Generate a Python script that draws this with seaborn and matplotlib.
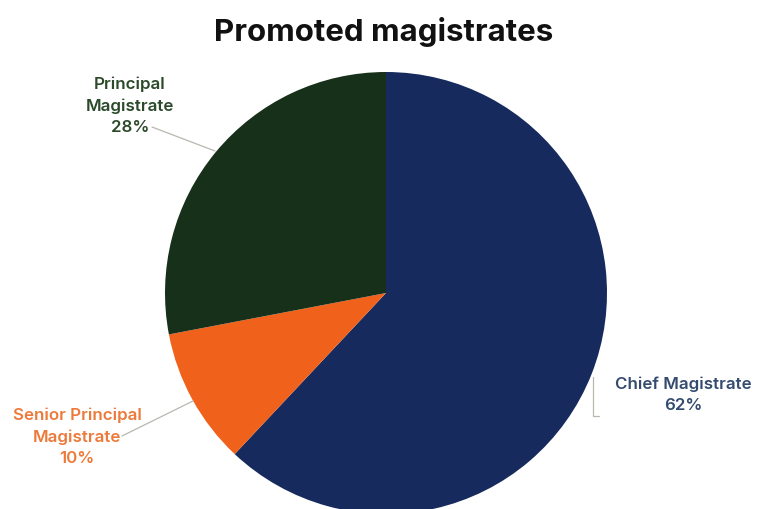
import matplotlib
matplotlib.use("Agg")
import matplotlib.pyplot as plt
import seaborn as sns

sns.set_theme(style="white")
plt.rcParams['font.family'] = ['Inter', 'DejaVu Sans']

categories = ["Chief Magistrate", "Senior Principal\nMagistrate", "Principal\nMagistrate"]
values = [62, 10, 28]
slice_colors = ["#172a5e", "#f0621c", "#17301a"]
label_colors = ["#344b70", "#ec7a3a", "#2b4a2a"]

W, H = 767, 510
fig = plt.figure(figsize=(W / 100, H / 100), dpi=100)
ax = fig.add_axes([0, 0, 1, 1])

cx, cy, r = 386, 294, 221
ax.pie(values, colors=slice_colors, startangle=-90, counterclock=True,
       center=(cx, cy), radius=r, frame=True,
       wedgeprops=dict(linewidth=0))
ax.set_xlim(0, W)
ax.set_ylim(H, 0)
ax.axis("off")

fig.text(0.5, 1 - 32 / H, "Promoted magistrates", ha="center", va="center",
         fontsize=22.5, fontweight="bold", color="#111111")

fs = 12.2
lab_pos = [(683, 395), (77, 437), (130, 106)]
for (x, y), txt, col, v in zip(lab_pos, categories, label_colors, values):
    ax.text(x, y, f"{txt}\n{v}%", ha="center", va="center", fontsize=fs,
            fontweight="semibold", color=col, linespacing=1.5)

line_col = "#b8b8b0"
ax.plot([152, 215], [128, 152], color=line_col, lw=0.9)
ax.plot([122, 193], [437, 402], color=line_col, lw=0.9)
ax.plot([593, 593, 599], [378, 417, 417], color=line_col, lw=0.9)

fig.savefig("out.png", dpi=100)
